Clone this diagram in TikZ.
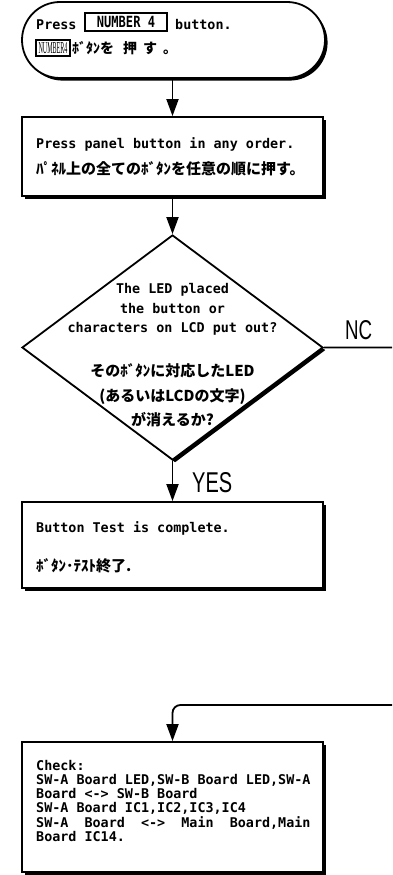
\documentclass[tikz,border=0pt]{standalone}
\usepackage{fontspec}
\usepackage{graphicx}
\usetikzlibrary{shapes.geometric,arrows.meta,shadows}
\newfontfamily\enfont{DejaVu Sans Mono}[BoldFont={DejaVu Sans Mono Bold}]
\newfontfamily\jpfont{Noto Sans CJK JP}
\newfontfamily\labfont{Liberation Sans}
\newfontfamily\keyfont{Liberation Serif}
\begin{document}
\begin{tikzpicture}[x=1pt,y=-1pt,
  shadebox/.style={draw=black, line width=1.8pt, fill=white, inner sep=0pt,
    drop shadow={shadow xshift=2.6pt, shadow yshift=-2.6pt, opacity=1, fill=black}},
  flow/.style={line width=1.8pt, -{Triangle[width=12pt,length=17pt]}},
  plain/.style={line width=1.8pt},
  en/.style={inner sep=0pt, anchor=base west, font=\enfont\bfseries\fontsize{13.4}{14}\selectfont},
  enc/.style={en, anchor=base},
  jp/.style={inner sep=0pt, anchor=base west, font=\jpfont\bfseries\fontsize{15}{16}\selectfont},
  jpc/.style={jp, anchor=base},
  keybox/.style={draw=black, line width=1.3pt, inner sep=0pt}]
\useasboundingbox (0,0) rectangle (392,875);
\clip (0,0) rectangle (392,875);

% flowchart shapes
\node[shadebox, rounded corners=38pt, minimum width=303pt, minimum height=76pt] (start) at (173.5,40) {};
\node[shadebox, minimum width=301pt, minimum height=79pt] (proc) at (172.5,156.5) {};
\node[shadebox, diamond, minimum width=301pt, minimum height=225pt] (dec) at (172.5,347.5) {};
\node[shadebox, minimum width=301pt, minimum height=86pt] (done) at (172.5,545) {};
\node[shadebox, minimum width=301pt, minimum height=130pt] (check) at (172.5,807) {};

% start: press NUMBER 4
\node[en] (s1a) at (36,30) {Press};
\node[keybox, minimum width=82pt, minimum height=18pt] (key1) at (126,22)
  {\enfont\bfseries\fontsize{13.4}{14}\selectfont\scalebox{0.9}[1.15]{NUMBER 4}};
\node[en] (s1b) at (175,30) {button.};
\node[keybox, minimum width=34pt, minimum height=16pt] (key2) at (53,48)
  {\resizebox{29pt}{11pt}{\keyfont NUMBER4}};
\node[jp, font=\jpfont\bfseries\fontsize{14}{15}\selectfont] (s2) at (72,54)
  {ﾎﾞﾀﾝを\hspace{9pt}押\hspace{6pt}す\hspace{6pt}。};

% press all panel buttons
\node[en] (p1) at (36,148) {Press panel button in any order.};
\node[jp] (p2) at (36,174) {ﾊﾟﾈﾙ上の全てのﾎﾞﾀﾝを任意の順に押す。};

% decision text
\node[enc] (d1) at (172.5,293) {The LED placed};
\node[enc] (d2) at (172.5,313) {the button or};
\node[enc] (d3) at (172.5,332) {characters on LCD put out?};
\node[jpc] (d4) at (172.5,376) {そのﾎﾞﾀﾝに対応したLED};
\node[jpc] (d5) at (172.5,401) {(あるいはLCDの文字)};
\node[jpc] (d6) at (172.5,425) {が消えるか?};

% test complete
\node[en] (t1) at (36,532) {Button Test is complete.};
\node[jp] (t2) at (36,571) {ﾎﾞﾀﾝ･ﾃｽﾄ終了.};

% items to check
\node[en] (c1) at (36,770) {Check:};
\node[en] (c2) at (36,784.3) {SW-A Board LED,SW-B Board LED,SW-A};
\node[en] (c3) at (36,798.6) {Board <-> SW-B Board};
\node[en] (c4) at (36,812.9) {SW-A Board IC1,IC2,IC3,IC4};
\node[en] (c5) at (36,827.2) {\makebox[274.3pt][l]{SW-A\hfill Board\hfill <->\hfill Main\hfill Board,Main}};
\node[en] (c6) at (36,841.5) {Board IC14.};

% connectors
\draw[flow] (start.south -| proc.north) -- (proc.north);
\draw[flow] (proc.south) -- (dec.north);
\draw[flow] (dec.south) -- (done.north);
\node[inner sep=0pt, anchor=west] (yes) at (192,483) {\resizebox{40pt}{20pt}{\labfont YES}};

\coordinate (noexit) at (400,420);
\draw[plain, rounded corners=8pt] (dec.east) -- (dec.east -| noexit) -- (noexit);
\node[inner sep=0pt, anchor=south west] (no) at (345,340) {\resizebox{27pt}{19pt}{\labfont NC}};

\coordinate (noentry) at (400,640);
\coordinate (bend) at (172.5,705);
\draw[flow, rounded corners=8pt] (noentry) |- (bend) -- (check.north);
\end{tikzpicture}
\end{document}
